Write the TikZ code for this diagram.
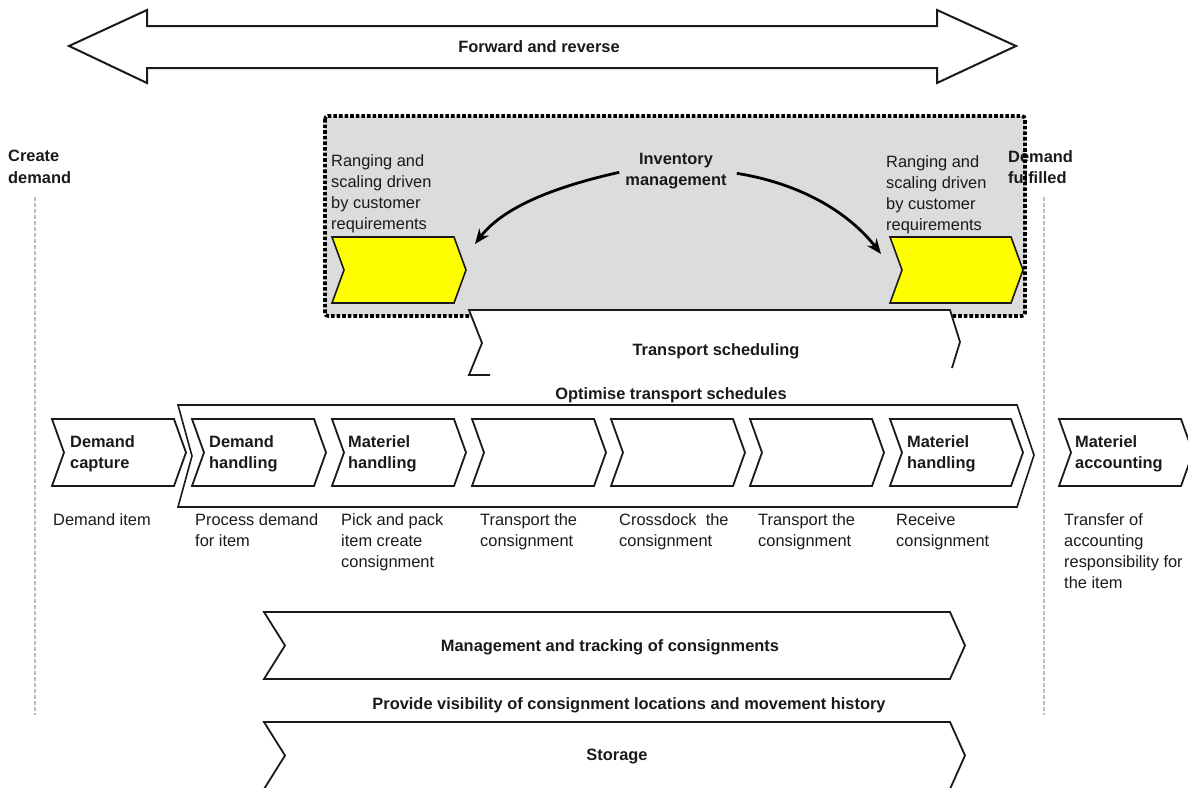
\documentclass[tikz,border=0pt]{standalone}
\usepackage{fontspec}
\setmainfont{Liberation Sans}
\usetikzlibrary{arrows.meta}
\definecolor{boxgray}{HTML}{DCDCDC}
\definecolor{dashgray}{HTML}{BEBEBE}
\definecolor{ylw}{HTML}{FFFF00}
\definecolor{ink}{HTML}{1A1A1A}
% options, left, top, bottom, tip x, tip depth, notch depth
\newcommand{\chevpath}[7]{\path[#1] (#2,#3) -- ({#5-#6},#3) -- (#5,{(#3+#4)/2}) -- ({#5-#6},#4) -- (#2,#4) -- ({#2+#7},{(#3+#4)/2}) -- cycle;}
\tikzset{
  txt/.style={font=\fontsize{16.4}{21}\selectfont, text=ink, inner sep=0pt, align=left, anchor=north west},
  btxt/.style={txt, font=\fontsize{16.4}{21.5}\selectfont\bfseries},
  ctxt/.style={font=\fontsize{16.4}{21}\selectfont\bfseries, text=ink, inner sep=0pt, anchor=base},
  chevbox/.style={draw=ink, line width=1.8pt, fill=white, line join=miter},
  ylwbox/.style={draw=ink, line width=1.6pt, fill=ylw},
  curvearr/.style={draw=black, line width=2.8pt, -{Stealth[length=15pt,width=12pt]}},
  gdash/.style={draw=dashgray, line width=2.3pt, dash pattern=on 3.5pt off 2.5pt},
  dotborder/.style={draw=black, line width=3.6pt, dash pattern=on 3.6pt off 2pt, rounded corners=3pt}
}
\begin{document}
\begin{tikzpicture}[x=1pt,y=-1pt]
\useasboundingbox (0,0) rectangle (1188,787);
% top double arrow
\draw[line width=2pt, draw=ink, fill=white, line join=miter]
  (69,46) -- (147,10) -- (147,26) -- (937,26) -- (937,10) -- (1016,46) -- (937,83) -- (937,68) -- (147,68) -- (147,83) -- cycle;
\node[ctxt] (fwd) at (539,52) {Forward and reverse};
% grey inventory box
\fill[boxgray, rounded corners=3pt] (325,116) rectangle (1025,316);
\node[txt] (rangeL) at (331,154) {Ranging and\\scaling driven\\by customer\\requirements};
\node[txt] (rangeR) at (886,155) {Ranging and\\scaling driven\\by customer\\requirements};
\node[btxt, anchor=north, align=center] (inv) at (676,153) {Inventory\\management};
\node[btxt] (create) at (8,150) {Create\\demand};
\node[btxt] (fulfil) at (1008,150) {Demand\\fulfilled};
\chevpath{ylwbox}{332}{237}{303}{466}{12}{12}
\chevpath{ylwbox}{890}{237}{303}{1023}{12}{12}
\coordinate (ylLend) at (475,244);
\coordinate (ylRend) at (881,254);
\draw[curvearr] ([xshift=-6pt,yshift=-1pt]inv.west) .. controls (558,186) and (504,206) .. (ylLend);
\draw[curvearr] ([xshift=10pt,yshift=-2pt]inv.east) .. controls (803,184) and (850,214) .. (ylRend);
\draw[dotborder] (325,116) rectangle (1025,316);
% transport scheduling
\fill[white] (469,310) -- (950,310) -- (960,342) -- (950,375) -- (469,375) -- (482,343) -- cycle;
\draw[draw=ink, line width=1.8pt, line join=miter] (490,375) -- (469,375) -- (482,343) -- (469,310) -- (950,310) -- (960,342) -- (952,368);
\node[ctxt] (tsched) at (716,355) {Transport scheduling};
\node[ctxt] (optim) at (671,399) {Optimise transport schedules};
% outer chevron
\path[draw=ink, line width=1.6pt, fill=white, line join=miter] (178,405) -- (1017,405) -- (1034,455) -- (1017,507) -- (178,507) -- (192,456) -- cycle;
% row chevrons
\chevpath{chevbox}{52}{419}{486}{186}{12}{12}
\chevpath{chevbox}{192}{419}{486}{326}{12}{12}
\chevpath{chevbox}{332}{419}{486}{466}{12}{12}
\chevpath{chevbox}{472}{419}{486}{606}{12}{12}
\chevpath{chevbox}{611}{419}{486}{745}{12}{12}
\chevpath{chevbox}{750}{419}{486}{884}{12}{12}
\chevpath{chevbox}{890}{419}{486}{1023}{12}{12}
\chevpath{chevbox}{1059}{419}{486}{1193}{12}{12}
\node[btxt] (c1) at (70,435) {Demand\\capture};
\node[btxt] (c2) at (209,435) {Demand\\handling};
\node[btxt] (c3) at (348,435) {Materiel\\handling};
\node[btxt] (c7) at (907,435) {Materiel\\handling};
\node[btxt] (c8) at (1075,435) {Materiel\\accounting};
\node[txt] (d1) at (53,513) {Demand item};
\node[txt] (d2) at (195,513) {Process demand\\for item};
\node[txt] (d3) at (341,513) {Pick and pack\\item create\\consignment};
\node[txt] (d4) at (480,513) {Transport the\\consignment};
\node[txt] (d5) at (619,513) {Crossdock\ \ the\\consignment};
\node[txt] (d6) at (758,513) {Transport the\\consignment};
\node[txt] (d7) at (896,513) {Receive\\consignment};
\node[txt] (d8) at (1064,513) {Transfer of\\accounting\\responsibility for\\the item};
% grey dashed boundaries
\draw[gdash] (35,197) -- (35,715);
\draw[gdash] (1044,197) -- (1044,715);
% bottom chevrons
\chevpath{chevbox}{264}{612}{679}{965}{15}{21}
\node[ctxt] (mgmt) at (610,651) {Management and tracking of consignments};
\node[ctxt] (vis) at (629,709) {Provide visibility of consignment locations and movement history};
\chevpath{chevbox}{264}{722}{789}{965}{15}{21}
\node[ctxt] (stor) at (617,760) {Storage};
\end{tikzpicture}
\end{document}
